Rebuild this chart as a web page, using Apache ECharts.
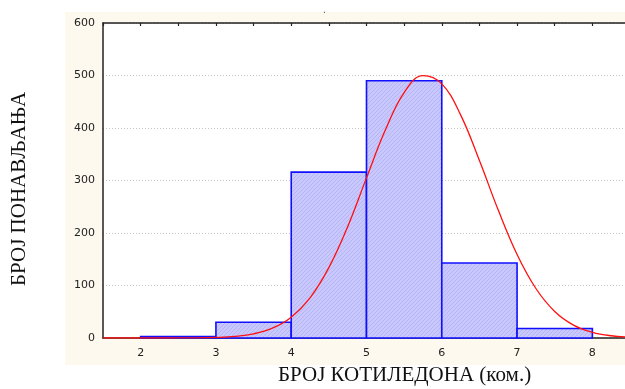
<!DOCTYPE html>
<html>
<head>
<meta charset="utf-8">
<script src="https://cdn.jsdelivr.net/npm/echarts@6/dist/echarts.min.js"></script>
<style>
  html, body { margin: 0; padding: 0; background: #fff; }
  #chart { width: 625px; height: 389px; }
</style>
</head>
<body>
<div id="chart"></div>
<script>
// Histogram of cotyledon counts: class lower edges, width and frequencies
const binStarts = [2, 3, 4, 5, 6, 7];
const binWidth = 1;
const counts = [3, 30, 316, 490, 143, 18];

// Fitted normal curve, sampled every 0.25
const curveX = [1.5, 1.75, 2, 2.25, 2.5, 2.75, 3, 3.25, 3.5, 3.75, 4, 4.25, 4.5, 4.75,
                5, 5.25, 5.5, 5.75, 6, 6.25, 6.5, 6.75, 7, 7.25, 7.5, 7.75, 8, 8.25, 8.5];
const curveY = [0, 0, 0, 0, 0.1, 0.3, 1.1, 3.1, 7.9, 18.7, 39.7, 76.6, 134, 212,
                305, 396, 467.6, 499.7, 484, 425, 338, 243.6, 159, 94.3, 50.6, 24.6, 10.9, 4.3, 1.6];

// Axis ticks
const xTicks = [2, 3, 4, 5, 6, 7, 8];
const yTicks = [0, 100, 200, 300, 400, 500, 600];

const xTitle = 'БРОЈ КОТИЛЕДОНА (ком.)';
const yTitle = 'БРОЈ ПОНАВЉАЊА';

// Diagonal hatch fill for the bars
function hatchPattern() {
  const c = document.createElement('canvas');
  c.width = 4; c.height = 4;
  const g = c.getContext('2d');
  g.fillStyle = '#c8c8fc';
  g.fillRect(0, 0, 4, 4);
  g.fillStyle = '#b4b4f6';
  for (let i = 0; i < 4; i++) {
    g.fillRect(i, 3 - i, 1, 1);
  }
  return c;
}
const hatch = { image: hatchPattern(), repeat: 'repeat' };

const barData = binStarts.map((s, i) => [s, s + binWidth, counts[i]]);
const curveData = curveX.map((x, i) => [x, curveY[i]]);

const chart = echarts.init(document.getElementById('chart'), null, { renderer: 'canvas' });

const labelFont = { fontFamily: 'DejaVu Sans', fontSize: 11, color: '#222' };

chart.setOption({
  backgroundColor: '#ffffff',
  animation: false,
  title: {
    text: '.',
    left: 318, top: 0,
    textStyle: { fontSize: 10, color: '#555', fontWeight: 'normal' }
  },
  graphic: [
    {
      type: 'rect', z: -100, silent: true,
      shape: { x: 65, y: 12, width: 560, height: 353 },
      style: { fill: '#fdf9ee' }
    },
    {
      type: 'text', left: 278, top: 365,
      style: { text: xTitle, font: '21px "Liberation Serif"', fill: '#111' }
    },
    {
      type: 'text', x: 9, y: 286, rotation: Math.PI / 2,
      style: { text: yTitle, font: '21px "Liberation Serif"', fill: '#111',
               textAlign: 'left', textVerticalAlign: 'top' }
    }
  ],
  grid: {
    left: 103, top: 23, width: 527, height: 315,
    outerBoundsMode: 'none', containLabel: false,
    show: true, backgroundColor: '#ffffff', borderWidth: 0
  },
  xAxis: [
    {
      type: 'value', min: 1.5, max: 8.5, position: 'bottom',
      interval: 0.5,
      axisLine: { show: true, onZero: false, lineStyle: { color: '#222', width: 1.5 } },
      axisTick: { show: false },
      splitLine: { show: false },
      axisLabel: {
        ...labelFont, margin: 10,
        formatter: v => (xTicks.includes(v) ? String(v) : '')
      }
    },
    {
      type: 'value', min: 1.5, max: 8.5, position: 'top',
      interval: 0.5,
      axisLine: { show: true, onZero: false, lineStyle: { color: '#222', width: 1.5 } },
      axisTick: {
        show: true, inside: true, length: 3,
        lineStyle: { color: '#222', width: 1.2 },
        interval: (i, v) => xTicks.includes(Number(v))
      },
      axisLabel: { show: false },
      splitLine: { show: false }
    }
  ],
  yAxis: {
    type: 'value', min: yTicks[0], max: yTicks[yTicks.length - 1], interval: 100,
    axisLine: { show: true, lineStyle: { color: '#222', width: 1.5 } },
    axisTick: { show: false },
    axisLabel: { ...labelFont, margin: 8 },
    splitLine: { show: true, lineStyle: { color: '#c4c4c4', type: [1, 2], width: 1 } }
  },
  series: [
    {
      type: 'custom',
      xAxisIndex: 0,
      data: barData,
      z: 2,
      renderItem: function (params, api) {
        const top = api.coord([api.value(0), api.value(2)]);
        const bot = api.coord([api.value(1), 0]);
        return {
          type: 'rect',
          shape: { x: top[0], y: top[1], width: bot[0] - top[0], height: bot[1] - top[1] },
          style: { fill: hatch, stroke: '#1010ff', lineWidth: 1.6 }
        };
      }
    },
    {
      type: 'line',
      xAxisIndex: 0,
      data: curveData,
      smooth: 0.4,
      showSymbol: false,
      z: 5,
      lineStyle: { color: '#ff1010', width: 1.3 }
    }
  ]
});
</script>
</body>
</html>
